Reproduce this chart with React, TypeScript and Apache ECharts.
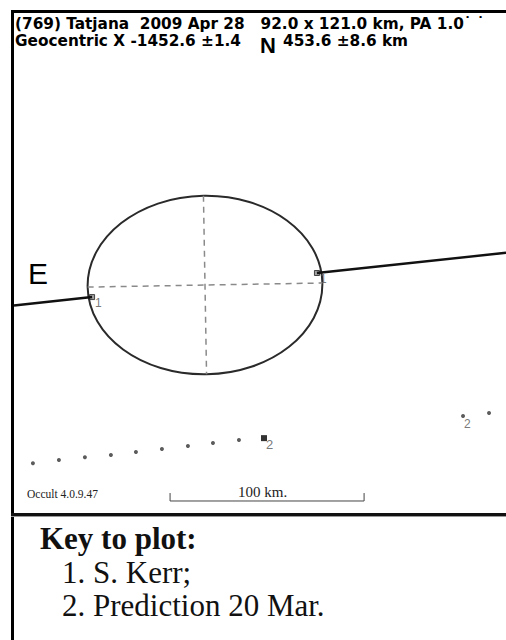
import React, { useEffect, useRef } from "react";
import * as echarts from "echarts";

// ---- data (km, relative to the fitted ellipse centre) ----
const headerLine1 = "(769) Tatjana  2009 Apr 28   92.0 x 121.0 km, PA 1.0˙ ˙";
const headerLine2a = "Geocentric X -1452.6 ±1.4";
const headerLine2b = "453.6 ±8.6 km";
const versionText = "Occult 4.0.9.47";
const scaleLabel = "100 km.";
const keyTitle = "Key to plot:";
const keyItems = ["1. S. Kerr;", "2. Prediction 20 Mar."];

const ellipseMajorKm = 121.0;
const ellipseMinorKm = 92.0;
const paDeg = 1.0;

const chordWest: number[][] = [[-98.45, -10.6], [-58.2, -6.2]];
const chordEast: number[][] = [[57.7, 6.2], [155.15, 16.6]];
const observerEvents: number[][] = [[-58.2, -6.2], [57.7, 6.2]];
const observerLabels = ["1", "1"];

const predictionPath: number[][] = [
  [-88.7, -91.8], [-75.3, -90.2], [-61.9, -88.7], [-48.5, -87.6], [-35.6, -86.1],
  [-22.2, -84.5], [-8.8, -83.0], [4.1, -81.4], [17.5, -79.9],
];
const predictionCentre: number[][] = [[30.4, -78.9]];
const predictionLimit: number[][] = [[133.0, -67.5], [146.4, -66.0]];
const predictionLabel = "2";

const scaleBarKm = 100;
const scaleBarStart = [-18.0, -111.3];
const scaleBarTick = 4.1;

export default function App() {
  const ref = useRef<HTMLDivElement>(null);
  useEffect(() => {
    if (!ref.current) return;
    const chart = echarts.init(ref.current, null, { renderer: "svg" });
    const pa = (paDeg * Math.PI) / 180;
    const a = ellipseMajorKm / 2;
    const b = ellipseMinorKm / 2;
    const majorAxis = [
      [-a * Math.cos(pa), -a * Math.sin(pa)],
      [a * Math.cos(pa), a * Math.sin(pa)],
    ];
    const minorAxis = [
      [-b * Math.sin(pa), b * Math.cos(pa)],
      [b * Math.sin(pa), -b * Math.cos(pa)],
    ];
    const sb = [
      [scaleBarStart[0], scaleBarStart[1] + scaleBarTick],
      [scaleBarStart[0], scaleBarStart[1]],
      [scaleBarStart[0] + scaleBarKm, scaleBarStart[1]],
      [scaleBarStart[0] + scaleBarKm, scaleBarStart[1] + scaleBarTick],
    ];
    const sans = "Liberation Sans, Arial, sans-serif";
    const head = "DejaVu Sans, sans-serif";
    const serif = "Liberation Serif, Times New Roman, serif";
    chart.setOption({
      animation: false,
      backgroundColor: "#ffffff",
      grid: { left: 14, top: 13, width: 492, height: 501 },
      xAxis: { type: "value", min: -98.45, max: 155.15, show: false, splitLine: { show: false } },
      yAxis: { type: "value", min: -118.0, max: 140.2, show: false, splitLine: { show: false } },
      series: [
        {
          type: "custom",
          data: [[0, 0]],
          silent: true,
          renderItem: (_p: any, api: any) => {
            const c = api.coord([0, 0]);
            const s = api.size([a, b]);
            return {
              type: "ellipse",
              x: c[0],
              y: c[1],
              rotation: pa,
              shape: { cx: 0, cy: 0, rx: s[0], ry: s[1] },
              style: { fill: "none", stroke: "#2a2a2a", lineWidth: 2 },
            };
          },
        },
        {
          type: "line", data: majorAxis, symbol: "none", silent: true,
          lineStyle: { color: "#8a8a8a", width: 1.5, type: [6, 5] },
        },
        {
          type: "line", data: minorAxis, symbol: "none", silent: true,
          lineStyle: { color: "#8a8a8a", width: 1.5, type: [6, 5] },
        },
        {
          type: "line", data: chordWest, symbol: "none", silent: true,
          lineStyle: { color: "#111", width: 2.5 },
        },
        {
          type: "line", data: chordEast, symbol: "none", silent: true,
          lineStyle: { color: "#111", width: 2.5 },
        },
        {
          type: "scatter",
          data: observerEvents.map((p, i) => ({ value: p, name: observerLabels[i] })),
          symbol: "rect", symbolSize: 5, silent: true,
          itemStyle: { color: "#888", borderColor: "#222", borderWidth: 1 },
          label: {
            show: true, formatter: "{b}", position: [6, 3],
            color: "#555", fontSize: 12, fontFamily: sans,
          },
        },
        {
          type: "scatter", data: predictionPath, symbol: "circle", symbolSize: 4, silent: true,
          itemStyle: { color: "#333" },
        },
        {
          type: "scatter", data: predictionCentre, symbol: "rect", symbolSize: 6, silent: true,
          itemStyle: { color: "#000" },
          label: {
            show: true, formatter: predictionLabel, position: [5, 3],
            color: "#555", fontSize: 13, fontFamily: sans,
          },
        },
        {
          type: "scatter",
          data: predictionLimit.map((p, i) => ({ value: p, label: { show: i === 0 } })),
          symbol: "circle", symbolSize: 4, silent: true,
          itemStyle: { color: "#333" },
          label: {
            show: true, formatter: predictionLabel, position: [3, 4],
            color: "#555", fontSize: 12, fontFamily: sans,
          },
        },
        {
          type: "line", data: sb, symbol: "none", silent: true,
          lineStyle: { color: "#444", width: 1 },
        },
      ],
      graphic: [
        { type: "rect", shape: { x: 11, y: 10, width: 495, height: 3 }, style: { fill: "#000" } },
        { type: "rect", shape: { x: 11, y: 10, width: 3, height: 630 }, style: { fill: "#000" } },
        { type: "rect", shape: { x: 11, y: 513, width: 495, height: 3 }, style: { fill: "#111" } },
        { type: "rect", shape: { x: 11, y: 516, width: 495, height: 1 }, style: { fill: "#999" } },
        {
          type: "text", left: 15, top: 16,
          style: { text: headerLine1, font: `bold 15.3px ${head}`, lineHeight: 15, fill: "#000" },
        },
        {
          type: "text", left: 15, top: 33,
          style: { text: headerLine2a, font: `bold 15.3px ${head}`, lineHeight: 15, fill: "#000" },
        },
        {
          type: "text", left: 260, top: 34,
          style: { text: "N", font: `bold 22px ${sans}`, lineHeight: 17, fill: "#000" },
        },
        {
          type: "text", left: 283, top: 33,
          style: { text: headerLine2b, font: `bold 15.3px ${head}`, lineHeight: 15, fill: "#000" },
        },
        {
          type: "text", left: 28, top: 258,
          style: { text: "E", font: `30px ${sans}`, fill: "#000" },
        },
        {
          type: "text", left: 27, top: 488,
          style: { text: versionText, font: `11.5px ${serif}`, fill: "#222" },
        },
        {
          type: "text", left: 238, top: 484,
          style: { text: scaleLabel, font: `15px ${serif}`, fill: "#222" },
        },
        {
          type: "text", left: 40, top: 523,
          style: { text: keyTitle, font: `bold 31px ${serif}`, fill: "#111" },
        },
        {
          type: "text", left: 62, top: 557,
          style: { text: keyItems[0], font: `31px ${serif}`, fill: "#111" },
        },
        {
          type: "text", left: 62, top: 590,
          style: { text: keyItems[1], font: `31px ${serif}`, fill: "#111" },
        },
      ],
    });
    return () => chart.dispose();
  }, []);
  return <div ref={ref} style={{ position: "fixed", left: 0, top: 0, width: 506, height: 640 }} />;
}
